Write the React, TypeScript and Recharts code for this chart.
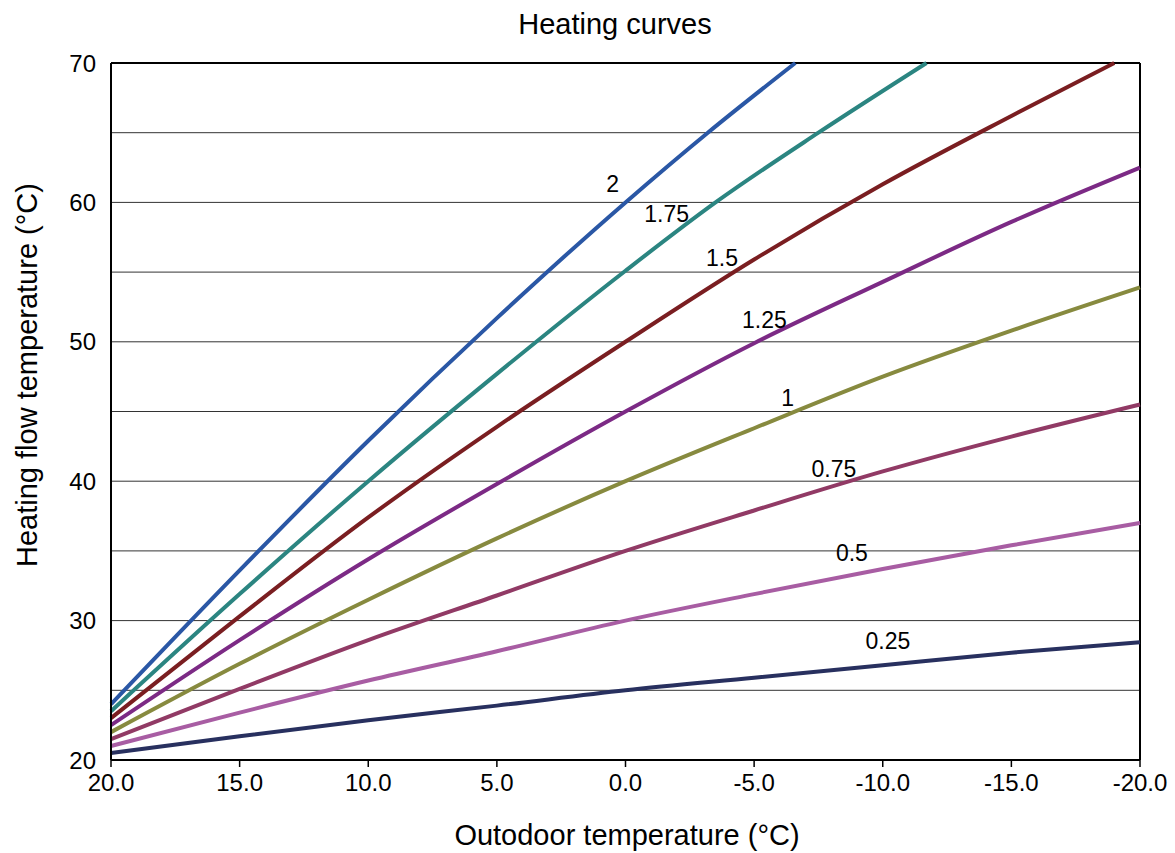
import React from 'react';
import { LineChart, Line, XAxis, YAxis, ReferenceLine, ReferenceDot } from 'recharts';

// outdoor temperature (°C) -> heating flow temperature (°C)
const curve200 = [[20, 24], [15, 33.6], [10, 42.9], [5, 51.7], [0, 60], [-3.2, 65], [-6.6, 70]];
const curve175 = [[20, 23.5], [15, 31.9], [10, 40.0], [5, 47.7], [0, 55.1], [-3.5, 60], [-7.5, 65], [-11.7, 70]];
const curve150 = [[20, 23], [15, 30.3], [10, 37.4], [5, 43.9], [0, 50], [-5, 55.9], [-10, 61.3], [-15, 66.2], [-19, 70]];
const curve125 = [[20, 22.5], [15, 28.6], [10, 34.4], [5, 39.8], [0, 45], [-5, 49.9], [-10, 54.3], [-15, 58.6], [-20, 62.5]];
const curve100 = [[20, 22], [15, 26.9], [10, 31.5], [5, 35.9], [0, 40], [-5, 43.8], [-10, 47.5], [-15, 50.8], [-20, 53.9]];
const curve075 = [[20, 21.5], [15, 25.1], [10, 28.6], [5, 31.8], [0, 35], [-5, 37.9], [-10, 40.7], [-15, 43.2], [-20, 45.5]];
const curve050 = [[20, 21], [15, 23.4], [10, 25.7], [5, 27.8], [0, 30], [-5, 31.9], [-10, 33.7], [-15, 35.4], [-20, 37]];
const curve025 = [[20, 20.5], [15, 21.7], [10, 22.85], [5, 23.9], [0, 25], [-5, 25.9], [-10, 26.8], [-15, 27.7], [-20, 28.45]];

const xTicks = [20, 15, 10, 5, 0, -5, -10, -15, -20];
const yTicks = [20, 30, 40, 50, 60, 70];
const gridValues = [25, 30, 35, 40, 45, 50, 55, 60, 65];

// curve name labels, placed in data units
const curveLabels = [
  { text: '2', t: 0.5, v: 61.3 },
  { text: '1.75', t: -1.6, v: 59.2 },
  { text: '1.5', t: -3.75, v: 56.0 },
  { text: '1.25', t: -5.4, v: 51.6 },
  { text: '1', t: -6.3, v: 46.0 },
  { text: '0.75', t: -8.1, v: 40.9 },
  { text: '0.5', t: -8.8, v: 34.85 },
  { text: '0.25', t: -10.2, v: 28.55 },
];

const series = [
  { name: '2', pts: curve200, color: '#2a57a5' },
  { name: '1.75', pts: curve175, color: '#2b8581' },
  { name: '1.5', pts: curve150, color: '#7a1e21' },
  { name: '1.25', pts: curve125, color: '#7c2a85' },
  { name: '1', pts: curve100, color: '#878a3f' },
  { name: '0.75', pts: curve075, color: '#913a65' },
  { name: '0.5', pts: curve050, color: '#a85da3' },
  { name: '0.25', pts: curve025, color: '#28305f' },
];

const font = '"Liberation Sans", Arial, sans-serif';

const App: React.FC = () => {
  return (
    <div style={{ position: 'absolute', left: 0, top: 0, width: 1175, height: 853, background: '#fff', fontFamily: font }}>
      <div style={{ position: 'absolute', left: 415, top: 8, width: 400, textAlign: 'center', fontSize: 29, color: '#000' }}>
        Heating curves
      </div>
      <LineChart width={1175} height={853} margin={{ top: 63, right: 35, bottom: 0, left: 0 }}>
        {gridValues.map((g) => (
          <ReferenceLine key={g} y={g} stroke="#333" strokeWidth={1} />
        ))}
        <XAxis
          type="number"
          dataKey="t"
          domain={[-20, 20]}
          reversed
          ticks={xTicks}
          interval={0}
          allowDuplicatedCategory={false}
          tickFormatter={(v: number) => v.toFixed(1)}
          height={93}
          tickSize={7}
          tickMargin={7}
          axisLine={{ stroke: '#000', strokeWidth: 2 }}
          tickLine={{ stroke: '#000', strokeWidth: 1.5 }}
          tick={{ fill: '#000', fontSize: 24, fontFamily: font }}
        />
        <YAxis
          type="number"
          domain={[20, 70]}
          ticks={yTicks}
          interval={0}
          width={111}
          tickLine={false}
          tickSize={0}
          tickMargin={15}
          axisLine={{ stroke: '#000', strokeWidth: 2 }}
          tick={{ fill: '#000', fontSize: 24, fontFamily: font }}
        />
        <ReferenceLine y={70} stroke="#000" strokeWidth={2} />
        <ReferenceLine x={-20} stroke="#000" strokeWidth={2} />
        {series.map((s) => (
          <Line
            key={s.name}
            data={s.pts.map(([t, v]) => ({ t, v }))}
            dataKey="v"
            type="monotone"
            stroke={s.color}
            strokeWidth={4}
            dot={false}
            activeDot={false}
            isAnimationActive={false}
          />
        ))}
        {curveLabels.map((l) => (
          <ReferenceDot
            key={l.text}
            x={l.t}
            y={l.v}
            r={0}
            fill="none"
            stroke="none"
            label={{ value: l.text, position: 'center', fill: '#000', fontSize: 23, fontFamily: font }}
          />
        ))}
      </LineChart>
      <div style={{ position: 'absolute', left: 427, top: 819, width: 400, textAlign: 'center', fontSize: 29, color: '#000' }}>
        Outodoor temperature (°C)
      </div>
      <div
        style={{
          position: 'absolute',
          left: 27 - 250,
          top: 375 - 18,
          width: 500,
          height: 36,
          lineHeight: '36px',
          textAlign: 'center',
          fontSize: 29,
          color: '#000',
          transform: 'rotate(-90deg)',
        }}
      >
        Heating flow temperature (°C)
      </div>
    </div>
  );
};

export default App;
